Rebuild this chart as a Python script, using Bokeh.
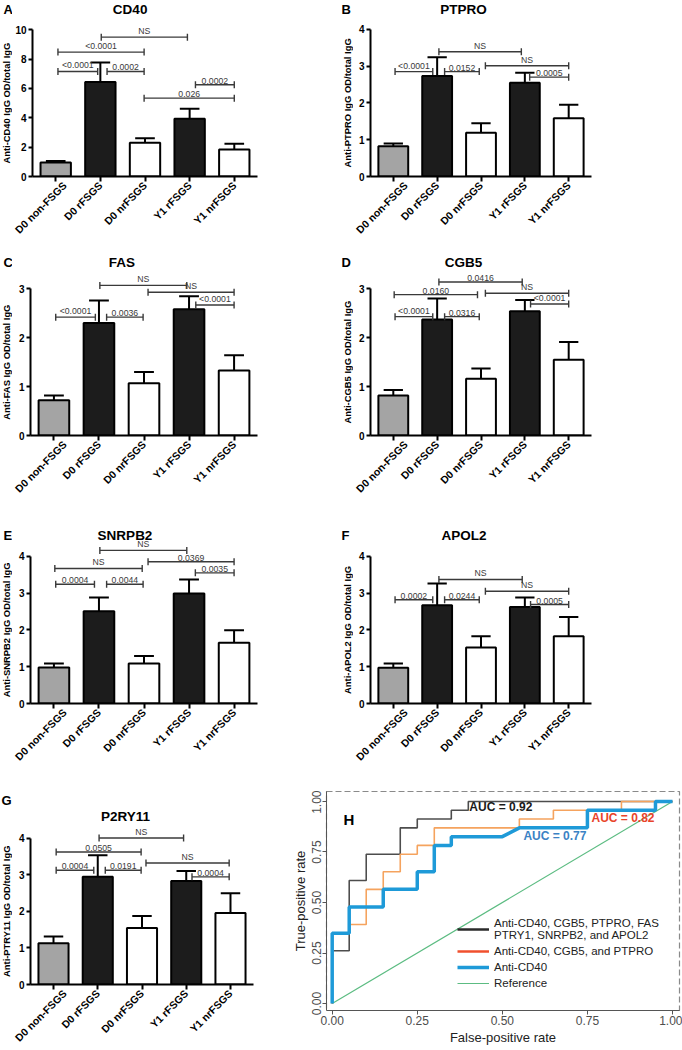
import math
from bokeh.plotting import figure
from bokeh.models import (Range1d, FixedTicker, Label, PrintfTickFormatter, Legend,
                          LegendItem, ColumnDataSource)
from bokeh.layouts import row, column
from bokeh.embed import file_html
from bokeh.resources import INLINE
from bokeh.core.properties import value

# ---------------- data ----------------
groups = ["D0 non-FSGS", "D0 rFSGS", "D0 nrFSGS", "Y1 rFSGS", "Y1 nrFSGS"]

cd40_mean = [0.95, 6.45, 2.30, 3.93, 1.84]
cd40_sem = [0.10, 1.32, 0.31, 0.68, 0.39]
cd40_brackets = [(1.02, 2.95, 9.50, "NS"), (0.05, 1.98, 8.48, "<0.0001"),
                 (0.05, 0.94, 7.16, "<0.0001"), (1.15, 1.98, 7.16, "0.0002"),
                 (3.13, 4.0, 6.25, "0.0002"), (1.98, 4.0, 5.34, "0.026")]

ptpro_mean = [0.82, 2.73, 1.19, 2.55, 1.58]
ptpro_sem = [0.08, 0.51, 0.26, 0.27, 0.37]
ptpro_brackets = [(1.04, 2.92, 3.39, "NS"), (2.10, 4.0, 3.01, "NS"),
                  (0.04, 0.90, 2.85, "<0.0001"), (1.17, 1.96, 2.85, "0.0152"),
                  (3.11, 4.0, 2.70, "0.0005")]

fas_mean = [0.72, 2.30, 1.07, 2.58, 1.33]
fas_sem = [0.10, 0.46, 0.23, 0.27, 0.31]
fas_brackets = [(1.02, 2.95, 3.07, "NS"), (2.09, 4.0, 2.93, "NS"),
                (0.04, 0.92, 2.42, "<0.0001"), (1.17, 1.98, 2.42, "0.0036"),
                (3.15, 4.0, 2.67, "<0.0001")]

cgb5_mean = [0.82, 2.37, 1.16, 2.54, 1.55]
cgb5_sem = [0.11, 0.43, 0.21, 0.23, 0.36]
cgb5_brackets = [(1.04, 2.94, 3.14, "0.0416"), (2.10, 4.0, 2.91, "NS"),
                 (0.02, 1.92, 2.88, "0.0160"), (0.04, 0.90, 2.43, "<0.0001"),
                 (1.17, 1.96, 2.43, "0.0316"), (3.13, 4.0, 2.69, "<0.0001")]

snrpb2_mean = [0.98, 2.51, 1.09, 2.99, 1.65]
snrpb2_sem = [0.11, 0.37, 0.20, 0.38, 0.34]
snrpb2_brackets = [(1.02, 2.95, 4.16, "NS"), (2.09, 4.0, 3.85, "0.0369"),
                   (0.02, 1.96, 3.67, "NS"), (0.04, 0.90, 3.24, "0.0004"),
                   (1.17, 1.98, 3.24, "0.0044"), (3.14, 4.0, 3.55, "0.0035")]

apol2_mean = [0.97, 2.67, 1.52, 2.62, 1.83]
apol2_sem = [0.12, 0.59, 0.31, 0.26, 0.52]
apol2_brackets = [(1.04, 2.94, 3.37, "NS"), (2.10, 4.0, 3.05, "NS"),
                  (0.04, 0.90, 2.82, "0.0002"), (1.17, 1.96, 2.82, "0.0244"),
                  (3.13, 4.0, 2.69, "0.0005")]

p2ry11_mean = [1.13, 2.94, 1.54, 2.83, 1.95]
p2ry11_sem = [0.18, 0.59, 0.33, 0.27, 0.54]
p2ry11_brackets = [(1.03, 2.94, 4.00, "NS"), (0.06, 1.98, 3.62, "0.0505"),
                   (2.09, 3.97, 3.32, "NS"), (0.06, 0.91, 3.12, "0.0004"),
                   (1.17, 1.98, 3.12, "0.0191"), (3.13, 3.97, 2.94, "0.0004")]

# ROC curves (false-positive rate, true-positive rate vertices)
roc7_fpr = [0, 0, 0.05, 0.05, 0.10, 0.10, 0.20, 0.20, 0.25, 0.25, 0.35, 0.35, 0.40, 0.40, 1.0]
roc7_tpr = [0, 6/23, 6/23, 14/23, 14/23, 17/23, 17/23, 20/23, 20/23, 21/23, 21/23, 22/23, 22/23, 1.0, 1.0]
roc3_fpr = [0, 0, 0.05, 0.05, 0.10, 0.10, 0.15, 0.15, 0.20, 0.20, 0.25, 0.25, 0.30, 0.30,
            0.55, 0.55, 0.65, 0.65, 0.85, 0.85, 1.0]
roc3_tpr = [0, 8/23, 8/23, 9/23, 9/23, 13/23, 13/23, 15/23, 15/23, 17/23, 17/23, 18/23, 18/23, 20/23,
            20/23, 21/23, 21/23, 22/23, 22/23, 1.0, 1.0]
roc1_fpr = [0, 0, 0.05, 0.05, 0.15, 0.15, 0.25, 0.25, 0.30, 0.30, 0.35, 0.35, 0.50, 0.55,
            0.75, 0.75, 0.95, 0.95, 1.0]
roc1_tpr = [0, 8/23, 8/23, 11/23, 11/23, 13/23, 13/23, 15/23, 15/23, 18/23, 18/23, 19/23, 19/23, 20/23,
            20/23, 22/23, 22/23, 1.0, 1.0]
ref_fpr = [0, 1]
ref_tpr = [0, 1]
roc_ticks = [0, 0.25, 0.5, 0.75, 1.0]
auc_labels = ["AUC = 0.92", "AUC = 0.82", "AUC = 0.77"]
legend_labels = ["Anti-CD40, CGB5, PTPRO, FAS\nPTRY1, SNRPB2, and APOL2",
                 "Anti-CD40, CGB5, and PTPRO", "Anti-CD40", "Reference"]

# ---------------- style ----------------
FONT = "Liberation Sans"
BAR_COLORS = ["#a4a4a4", "#1c1c1c", "#ffffff", "#1c1c1c", "#ffffff"]
BR_COLOR = "#3a3a3a"
XS, XE = -0.52, 4.52
STRIP = 12


def side_strip(H, y0, letter, letter_x, letter_cy, ylabel, ylabel_cy):
    # frame covers pixel rows 0..y0 (same borders as the neighbouring bar panel)
    s = figure(width=STRIP, height=H, x_range=Range1d(0, STRIP), y_range=Range1d(y0, 0),
               min_border_left=0, min_border_right=0, min_border_top=0,
               min_border_bottom=H - y0,
               x_axis_type=None, y_axis_type=None, output_backend="svg", toolbar_location=None)
    s.outline_line_color = None
    s.xgrid.visible = False
    s.ygrid.visible = False
    s.add_layout(Label(x=letter_x, y=letter_cy, text=letter, text_align="left",
                       text_baseline="middle", text_font=FONT, text_font_style="bold",
                       text_font_size="13px", text_color="black"))
    s.add_layout(Label(x=6, y=ylabel_cy, text=ylabel, angle=math.pi / 2, text_align="center",
                       text_baseline="middle", text_font=FONT, text_font_style="bold",
                       text_font_size="9.4px", text_color="black"))
    return s


def bar_panel(W, H, L, R, y0, ppu, top, step, means, sems, brackets,
              title, title_cx, title_cy):
    B = H - y0
    y_end = y0 / ppu
    p = figure(width=W, height=H, x_range=Range1d(XS, XE), y_range=Range1d(0, y_end),
               min_border_left=L, min_border_right=R, min_border_top=0, min_border_bottom=B,
               output_backend="svg", toolbar_location=None)
    ppx = (W - L - R) / (XE - XS)

    xs = list(range(len(groups)))
    upper = [m + s for m, s in zip(means, sems)]
    src = ColumnDataSource(dict(x=xs, top=means, upper=upper, color=BAR_COLORS,
                                cl=[x - 0.22 for x in xs], cr=[x + 0.22 for x in xs]))
    p.vbar(x="x", top="top", width=0.68, fill_color="color", line_color="black",
           line_width=2, source=src)
    p.segment(x0="x", y0="top", x1="x", y1="upper", line_color="black", line_width=2, source=src)
    p.segment(x0="cl", y0="upper", x1="cr", y1="upper", line_color="black", line_width=2, source=src)

    bx0 = [b[0] for b in brackets]
    bx1 = [b[1] for b in brackets]
    by = [b[2] for b in brackets]
    bt = [b[3] for b in brackets]
    p.segment(x0=bx0, y0=by, x1=bx1, y1=by, line_color=BR_COLOR, line_width=1.4)
    p.scatter(x=bx0 + bx1, y=by + by, marker="dash", angle=math.pi / 2, size=7,
              line_color=BR_COLOR, line_width=1.4)
    p.text(x=[(a + b) / 2 for a, b in zip(bx0, bx1)], y=by, text=bt, text_align="center",
           text_baseline="bottom", y_offset=-1, text_font=value(FONT),
           text_font_size="8.7px", text_color="#3a3a3a")

    p.xgrid.visible = False
    p.ygrid.visible = False
    p.outline_line_color = None

    yax = p.yaxis[0]
    nt = int(round(top / step))
    yax.ticker = FixedTicker(ticks=[i * step for i in range(nt + 1)])
    yax.bounds = (0, top)
    yax.axis_line_width = 2
    yax.major_tick_line_width = 2
    yax.major_tick_out = 4
    yax.major_tick_in = 0
    yax.minor_tick_line_color = None
    yax.major_label_standoff = 2
    yax.major_label_text_font = FONT
    yax.major_label_text_font_style = "bold"
    yax.major_label_text_font_size = "10px"
    yax.major_label_text_color = "black"

    xax = p.xaxis[0]
    xax.ticker = FixedTicker(ticks=xs)
    xax.major_label_overrides = {i: g for i, g in enumerate(groups)}
    xax.major_label_orientation = math.pi / 4
    xax.axis_line_width = 2
    xax.major_tick_line_width = 2
    xax.major_tick_out = 5
    xax.major_tick_in = 0
    xax.minor_tick_line_color = None
    xax.major_label_standoff = 2
    xax.major_label_text_font = FONT
    xax.major_label_text_font_style = "bold"
    xax.major_label_text_font_size = "10.5px"
    xax.major_label_text_color = "black"

    p.add_layout(Label(x=XS + (title_cx - L) / ppx, y=(y0 - title_cy) / ppu, text=title,
                       text_align="center", text_baseline="middle", text_font=FONT,
                       text_font_style="bold", text_font_size="13.5px", text_color="black"))
    return p


MW = 341 - STRIP
# row 1  (page y 0 - 250)
sA = side_strip(250, 176, "A", 3, 9, "Anti-CD40 IgG OD/total IgG", 176 - 10 * 14.67 / 2)
pA = bar_panel(MW, 250, 18, 84, 176, 14.67, 10, 2, cd40_mean, cd40_sem, cd40_brackets,
               "CD40", 128.5 - STRIP, 9)
sB = side_strip(250, 176, "B", 0, 9, "Anti-PTPRO IgG OD/total IgG", 176 - 4 * 36.8 / 2)
pB = bar_panel(MW, 250, 17, 91, 176, 36.8, 4, 1, ptpro_mean, ptpro_sem, ptpro_brackets,
               "PTPRO", 463 - 341 - STRIP, 9)
# row 2  (page y 250 - 524)
sC = side_strip(274, 185, "C", 3, 12, "Anti-FAS IgG OD/total IgG", 185 - 3 * 48.9 / 2)
pC = bar_panel(MW, 274, 18, 84, 185, 48.9, 3, 1, fas_mean, fas_sem, fas_brackets,
               "FAS", 121.5 - STRIP, 12)
sD = side_strip(274, 185, "D", 0, 12, "Anti-CGB5 IgG OD/total IgG", 185 - 3 * 48.9 / 2)
pD = bar_panel(MW, 274, 17, 91, 185, 48.9, 3, 1, cgb5_mean, cgb5_sem, cgb5_brackets,
               "CGB5", 463 - 341 - STRIP, 12)
# row 3  (page y 524 - 790)
sE = side_strip(266, 179, "E", 3, 11, "Anti-SNRPB2 IgG OD/total IgG", 179 - 4 * 36.8 / 2)
pE = bar_panel(MW, 266, 18, 84, 179, 36.8, 4, 1, snrpb2_mean, snrpb2_sem, snrpb2_brackets,
               "SNRPB2", 124.5 - STRIP, 11)
sF = side_strip(266, 179, "F", 0, 11, "Anti-APOL2 IgG OD/total IgG", 179 - 4 * 36.8 / 2)
pF = bar_panel(MW, 266, 17, 91, 179, 36.8, 4, 1, apol2_mean, apol2_sem, apol2_brackets,
               "APOL2", 463.5 - 341 - STRIP, 11)
# row 4  (page y 790 - 1050)
sG = side_strip(260, 195, "G", 1, 10, "Anti-PTRY11 IgG OD/total IgG", 195 - 4 * 36.8 / 2)
pG = bar_panel(288 - STRIP, 260, 18, 35, 195, 36.8, 4, 1, p2ry11_mean, p2ry11_sem,
               p2ry11_brackets, "P2RY11", 125 - STRIP, 26.5)

# ---------------- ROC panel ----------------
pH = figure(width=394, height=260, x_range=Range1d(-0.01675, 1.0206),
            y_range=Range1d(-0.03465, 1.0495), min_border_left=38, min_border_right=3,
            min_border_top=1, min_border_bottom=40, output_backend="svg", toolbar_location=None)
pH.xgrid.visible = False
pH.ygrid.visible = False
pH.outline_line_color = "#8a8a8a"
pH.outline_line_dash = "6 3"
pH.outline_line_width = 1.2

r_ref = pH.line(ref_fpr, ref_tpr, line_color="#5cbc82", line_width=1.2)
pH.line(roc7_fpr, roc7_tpr, line_color="#4d4d4d", line_width=1.6)
pH.line(roc3_fpr, roc3_tpr, line_color="#f5a35e", line_width=1.6)
r_one = pH.line(roc1_fpr, roc1_tpr, line_color="#1e9ad8", line_width=3.5)

lg_black = pH.line(roc7_fpr, roc7_tpr, line_color="#2a2a2a", line_width=2.5, visible=False)
lg_red = pH.line(roc3_fpr, roc3_tpr, line_color="#f0502e", line_width=2.5, visible=False)

legend = Legend(items=[LegendItem(label=legend_labels[0], renderers=[lg_black]),
                       LegendItem(label=legend_labels[1], renderers=[lg_red]),
                       LegendItem(label=legend_labels[2], renderers=[r_one]),
                       LegendItem(label=legend_labels[3], renderers=[r_ref])],
                location=(131, 21), border_line_color=None, background_fill_alpha=0,
                padding=0, margin=0, spacing=3, glyph_width=32, glyph_height=12,
                label_height=13, label_standoff=5, label_text_font=FONT,
                label_text_font_size="11.5px", label_text_color="#222222")
pH.add_layout(legend)

for ax in (pH.xaxis[0], pH.yaxis[0]):
    ax.ticker = FixedTicker(ticks=roc_ticks)
    ax.formatter = PrintfTickFormatter(format="%.2f")
    ax.axis_line_color = "#555555"
    ax.axis_line_width = 1
    ax.major_tick_line_color = "#555555"
    ax.major_tick_out = 4
    ax.major_tick_in = 0
    ax.minor_tick_line_color = None
    ax.major_label_standoff = 1
    ax.major_label_text_font = FONT
    ax.major_label_text_font_size = "12px"
    ax.major_label_text_color = "#4d4d4d"
    ax.axis_label_text_font = FONT
    ax.axis_label_text_font_size = "13px"
    ax.axis_label_text_font_style = "normal"
    ax.axis_label_text_color = "#222222"
    ax.axis_label_standoff = 2
pH.xaxis[0].axis_label = "False-positive rate"
pH.yaxis[0].axis_label = "True-positive rate"
pH.yaxis[0].major_label_orientation = "vertical"

pH.add_layout(Label(x=0.403, y=0.972, text=auc_labels[0], text_baseline="middle",
                    text_font=FONT, text_font_style="bold", text_font_size="12px",
                    text_color="#1a1a1a"))
pH.add_layout(Label(x=0.762, y=0.916, text=auc_labels[1], text_baseline="middle",
                    text_font=FONT, text_font_style="bold", text_font_size="12px",
                    text_color="#e8432a"))
pH.add_layout(Label(x=0.562, y=0.827, text=auc_labels[2], text_baseline="middle",
                    text_font=FONT, text_font_style="bold", text_font_size="12px",
                    text_color="#3b82c4"))
pH.add_layout(Label(x=0.033, y=0.91, text="H", text_baseline="middle",
                    text_font=FONT, text_font_style="bold", text_font_size="15px",
                    text_color="black"))

layout = column(row(sA, pA, sB, pB), row(sC, pC, sD, pD), row(sE, pE, sF, pF),
                row(sG, pG, column(pH)))
open("out.html", "w").write(file_html(layout, INLINE))
